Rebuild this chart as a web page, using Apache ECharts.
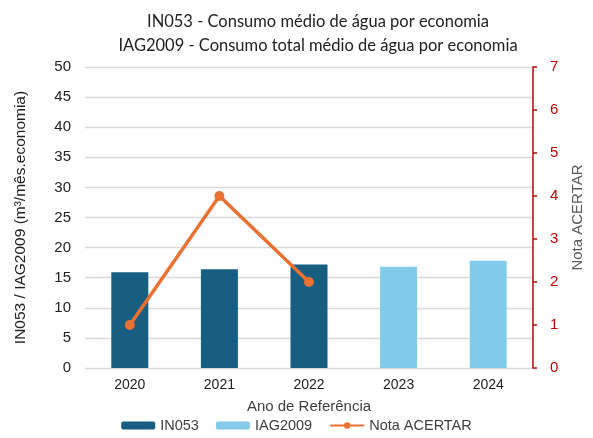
<!DOCTYPE html>
<html><head><meta charset="utf-8">
<script src="https://cdn.jsdelivr.net/npm/echarts@6/dist/echarts.min.js"></script>
<style>html,body{margin:0;padding:0;background:#fff}#c{width:593px;height:438px}</style>
</head><body><div id="c"></div>
<script>
const categories = ['2020','2021','2022','2023','2024'];
const in053 = [15.9, 16.4, 17.2, '-', '-'];
const iag2009 = ['-', '-', '-', 16.8, 17.8];
const notaAcertar = [1, 4, 2, '-', '-'];
const leftTicks = {min: 0, max: 50, interval: 5};
const rightTicks = {min: 0, max: 7, interval: 1};

const chart = echarts.init(document.getElementById('c'), null, {renderer: 'canvas'});
const font = 'Liberation Sans, Arial, sans-serif';
chart.setOption({
  animation: false,
  backgroundColor: '#fff',
  title: {
    text: 'IN053 - Consumo médio de água por economia\nIAG2009 - Consumo total médio de água por economia',
    left: 313, top: 5, textAlign: 'center',
    textStyle: {fontFamily: 'Lato, sans-serif', fontSize: 16.5, fontWeight: 'normal', color: '#222', lineHeight: 24}
  },
  grid: {left: 85, right: 56, top: 67, bottom: 70, containLabel: false},
  legend: {
    bottom: 0, left: 'center', itemWidth: 34, itemHeight: 8, itemGap: 17,
    textStyle: {fontFamily: font, fontSize: 14.5, color: '#404040'},
    data: ['IN053', 'IAG2009', 'Nota ACERTAR']
  },
  xAxis: {
    type: 'category', data: categories,
    name: 'Ano de Referência', nameLocation: 'middle', nameGap: 31,
    nameTextStyle: {fontFamily: font, fontSize: 15, color: '#404040'},
    axisLine: {show: false}, axisTick: {show: false},
    axisLabel: {fontFamily: font, fontSize: 14, color: '#222', margin: 10}
  },
  yAxis: [{
    type: 'value', min: leftTicks.min, max: leftTicks.max, interval: leftTicks.interval,
    name: 'IN053 / IAG2009 (m³/mês.economia)', nameLocation: 'middle', nameGap: 56, nameRotate: 90,
    nameTextStyle: {fontFamily: font, fontSize: 15.5, color: '#222'},
    axisLine: {show: false}, axisTick: {show: false},
    axisLabel: {fontFamily: font, fontSize: 15, color: '#222', margin: 14},
    splitLine: {lineStyle: {color: '#d9d9d9', width: 1.3}}
  }, {
    type: 'value', min: rightTicks.min, max: rightTicks.max, interval: rightTicks.interval,
    position: 'right',
    name: 'Nota ACERTAR', nameLocation: 'middle', nameGap: 37, nameRotate: 90,
    nameTextStyle: {fontFamily: font, fontSize: 15, color: '#595959'},
    axisLine: {show: true, lineStyle: {color: '#C00000', width: 1.5}},
    axisTick: {show: true, inside: false, length: 4, lineStyle: {color: '#C00000', width: 1.5}},
    axisLabel: {fontFamily: font, fontSize: 15, color: '#C00000', margin: 17},
    splitLine: {show: false}
  }],
  series: [{
    name: 'IN053', type: 'bar', stack: 's', data: in053, barWidth: 37,
    itemStyle: {color: '#175E82'}
  }, {
    name: 'IAG2009', type: 'bar', stack: 's', data: iag2009, barWidth: 37,
    itemStyle: {color: '#83CBEB'}
  }, {
    name: 'Nota ACERTAR', type: 'line', yAxisIndex: 1, data: notaAcertar,
    symbol: 'circle', symbolSize: 10,
    lineStyle: {color: '#E97132', width: 3.5}, itemStyle: {color: '#E97132'}
  }]
});
</script></body></html>
